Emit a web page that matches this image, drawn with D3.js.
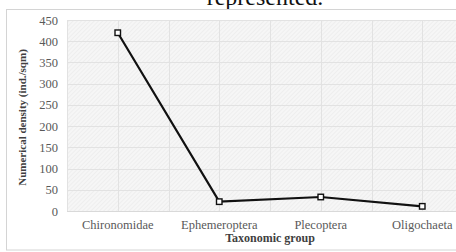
<!DOCTYPE html>
<html>
<head>
<meta charset="utf-8">
<script src="https://cdn.jsdelivr.net/npm/d3@7"></script>
<style>
  html, body { margin: 0; padding: 0; background: #fff; }
  svg { display: block; }
</style>
</head>
<body>
<svg id="chart" width="456" height="252"></svg>
<script>
const categories = ["Chironomidae", "Ephemeroptera", "Plecoptera", "Oligochaeta"];
const densityValues = [420, 22, 33, 11];
const yTickValues = [0, 50, 100, 150, 200, 250, 300, 350, 400, 450];
const xAxisTitle = "Taxonomic group";
const yAxisTitle = "Numerical density (ind./sqm)";
const captionText = "represented.";

const svg = d3.select("#chart");
const W = 456, H = 252;
const plot = { left: 67, right: 473, top: 20, bottom: 211 };
const serif = "'Liberation Serif', 'Times New Roman', serif";

// caption fragment above chart
svg.append("text")
  .attr("x", 265).attr("y", 4.5)
  .attr("text-anchor", "middle")
  .attr("font-family", serif)
  .attr("font-size", 24)
  .attr("fill", "#111")
  .text(captionText);

// chart border
svg.append("rect")
  .attr("x", 6.5).attr("y", 9.5)
  .attr("width", 470).attr("height", 240.5)
  .attr("fill", "#fff")
  .attr("stroke", "#d4d4d4").attr("stroke-width", 1);

// hatch pattern
const defs = svg.append("defs");
const pat = defs.append("pattern")
  .attr("id", "hatch")
  .attr("patternUnits", "userSpaceOnUse")
  .attr("width", 3).attr("height", 3)
  .attr("patternTransform", "rotate(45)");
pat.append("rect").attr("width", 3).attr("height", 3).attr("fill", "#f6f6f6");
pat.append("line").attr("x1", 0).attr("y1", 0).attr("x2", 0).attr("y2", 3)
  .attr("stroke", "#e6e6e6").attr("stroke-width", 1);

const x = d3.scaleBand().domain(categories).range([plot.left, plot.right]).paddingInner(0).paddingOuter(0);
const y = d3.scaleLinear().domain([0, 450]).range([plot.bottom, plot.top]);

svg.append("rect")
  .attr("x", plot.left).attr("y", plot.top)
  .attr("width", plot.right - plot.left).attr("height", plot.bottom - plot.top)
  .attr("fill", "url(#hatch)");

// vertical gridlines: band edges and centers
const vGrid = [];
categories.forEach(c => { vGrid.push(x(c)); vGrid.push(x(c) + x.bandwidth() / 2); });
vGrid.push(plot.right);
svg.append("g").selectAll("line").data(vGrid).join("line")
  .attr("x1", d => Math.round(d) + 0.5).attr("x2", d => Math.round(d) + 0.5)
  .attr("y1", plot.top).attr("y2", plot.bottom)
  .attr("stroke", "#e2e2e2").attr("stroke-width", 1);

// horizontal gridlines
svg.append("g").selectAll("line").data(yTickValues).join("line")
  .attr("x1", plot.left).attr("x2", plot.right)
  .attr("y1", d => Math.round(y(d)) + 0.5).attr("y2", d => Math.round(y(d)) + 0.5)
  .attr("stroke", d => d === 0 ? "#d9d9d9" : "#e2e2e2").attr("stroke-width", 1);

// y axis
const yAxis = d3.axisLeft(y).tickValues(yTickValues).tickSize(0).tickPadding(9);
const yg = svg.append("g").attr("transform", `translate(${plot.left},0)`).call(yAxis);
yg.select(".domain").remove();
yg.selectAll("text").attr("font-family", serif).attr("font-size", 12.5).attr("fill", "#595959");

// x axis
const xAxis = d3.axisBottom(x).tickSize(0).tickPadding(9);
const xg = svg.append("g").attr("transform", `translate(0,${plot.bottom})`).call(xAxis);
xg.select(".domain").remove();
xg.selectAll("text").attr("font-family", serif).attr("font-size", 12.5).attr("fill", "#595959");

// axis titles
svg.append("text")
  .attr("x", (plot.left + plot.right) / 2).attr("y", 242)
  .attr("text-anchor", "middle")
  .attr("font-family", serif).attr("font-weight", "bold")
  .attr("font-size", 12).attr("fill", "#404040")
  .text(xAxisTitle);

svg.append("text")
  .attr("transform", `translate(26,${(plot.top + plot.bottom) / 2 + 2}) rotate(-90)`)
  .attr("text-anchor", "middle")
  .attr("font-family", serif).attr("font-weight", "bold")
  .attr("font-size", 11).attr("fill", "#404040")
  .text(yAxisTitle);

// line and markers
const pts = categories.map((c, i) => ({ c, v: densityValues[i] }));
const cx = d => x(d.c) + x.bandwidth() / 2;
svg.append("path")
  .datum(pts)
  .attr("fill", "none")
  .attr("stroke", "#111")
  .attr("stroke-width", 2.2)
  .attr("d", d3.line().x(cx).y(d => y(d.v)));

svg.append("g").selectAll("rect").data(pts).join("rect")
  .attr("x", d => cx(d) - 2.75).attr("y", d => y(d.v) - 2.75)
  .attr("width", 5.5).attr("height", 5.5)
  .attr("fill", "#fff").attr("stroke", "#111").attr("stroke-width", 1.4);
</script>
</body>
</html>
